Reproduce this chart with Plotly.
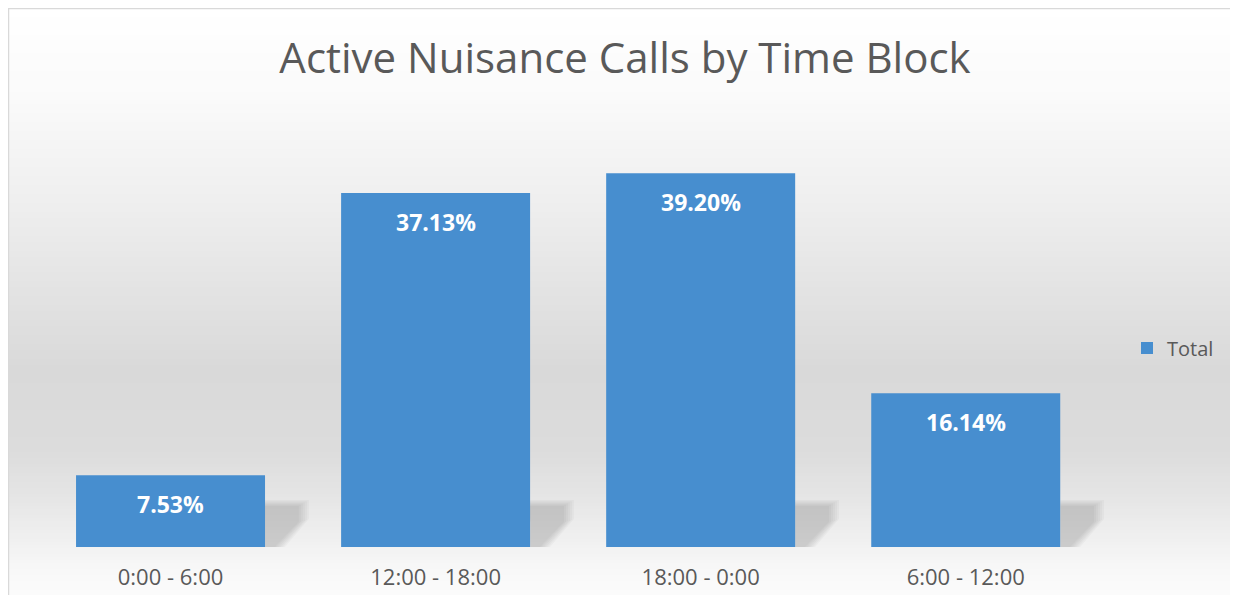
import numpy as np
import plotly.graph_objects as go

categories = ["0:00 - 6:00", "12:00 - 18:00", "18:00 - 0:00", "6:00 - 12:00"]
totals = [7.53, 37.13, 39.20, 16.14]
series_name = "Total"
title_text = "Active Nuisance Calls by Time Block"

# page has an 8px body margin; figure sits at page (8, 8)
OFF = 8
W, H = 1222, 587
ML, MR, MT, MB = 30, 126, 110, 48
PW, PH = W - ML - MR, H - MT - MB
BARGAP = 0.287

def px_x(p):  # page x -> paper x
    return (p - OFF - ML) / PW

def px_y(p):  # page y -> paper y
    return (H - MB - (p - OFF)) / PH

FONT = "Open Sans"
TXT = "#595959"

fig = go.Figure()
fig.add_trace(go.Bar(
    x=categories, y=totals, name=series_name,
    marker=dict(color="#478ecf", line=dict(width=0)),
    showlegend=True, hoverinfo="x+y",
))

shapes = []
# background vertical gradient
stops_px = [7, 100, 200, 300, 370, 450, 500, 540, 570, 603]
stops_v = [255, 250, 239, 226, 217, 220, 230, 240, 248, 252]
step = 3
for p in range(OFF, H + OFF, step):
    v = int(round(np.interp(p + step / 2, stops_px, stops_v)))
    c = f"rgb({v},{v},{v})"
    shapes.append(dict(type="rect", xref="paper", yref="paper",
                       x0=px_x(OFF), x1=px_x(W + OFF),
                       y0=px_y(min(p + step + 0.5, H + OFF)), y1=px_y(p),
                       fillcolor=c, line=dict(width=0), layer="below"))

# soft perspective shadows to the lower right of each bar
half = (1 - BARGAP) / 2
unit = PW / len(categories)
for i in range(len(categories)):
    xr = i + half
    for k in range(10, -1, -2):
        a = 0.035
        top = 506 - k * 0.6
        pth = (f"M {xr},{px_y(top)} L {xr + (34 + k) / unit},{px_y(top)} "
               f"L {xr + (34 + k) / unit},{px_y(522 - k * 0.3)} "
               f"L {xr + (10 + k) / unit},{px_y(547)} "
               f"L {xr},{px_y(547)} Z")
        shapes.append(dict(type="path", xref="x", yref="paper", path=pth,
                           fillcolor=f"rgba(70,70,70,{a})", line=dict(width=0),
                           layer="below"))

# chart border (left and top visible)
shapes.append(dict(type="rect", xref="paper", yref="paper",
                   x0=px_x(OFF + 0.5), x1=px_x(W + OFF + 20),
                   y0=px_y(H + OFF + 20), y1=px_y(OFF + 0.5),
                   fillcolor="rgba(0,0,0,0)", line=dict(color="#d9d9d9", width=1.5),
                   layer="above"))

annotations = []
for c, v in zip(categories, totals):
    annotations.append(dict(x=c, y=v, xref="x", yref="y", text=f"{v:.2f}%",
                            showarrow=False, yanchor="middle", yshift=-29,
                            font=dict(family=FONT, size=23, color="white", weight="bold")))

fig.update_layout(
    width=W, height=H,
    margin=dict(l=ML, r=MR, t=MT, b=MB, pad=0, autoexpand=False),
    paper_bgcolor="white", plot_bgcolor="rgba(0,0,0,0)",
    title=dict(text=title_text, x=(625 - OFF) / W, xanchor="center", xref="container",
               y=1 - (58 - OFF) / H, yanchor="middle", yref="container",
               font=dict(family=FONT, size=42, color=TXT)),
    bargap=BARGAP,
    xaxis=dict(showgrid=False, zeroline=False, showline=False, ticks="",
               tickfont=dict(family=FONT, size=22, color=TXT), ticklabelstandoff=15,
               automargin=False),
    yaxis=dict(range=[0, 45], visible=False, showgrid=False, zeroline=False,
               automargin=False),
    legend=dict(x=(1127 - OFF) / W, xref="container", y=px_y(348), xanchor="left",
                yanchor="middle",
                bgcolor="rgba(0,0,0,0)", font=dict(family=FONT, size=20, color=TXT),
                itemwidth=30),
    shapes=shapes, annotations=annotations,
    font=dict(family=FONT, color=TXT),
)

fig.write_html("out.html")
